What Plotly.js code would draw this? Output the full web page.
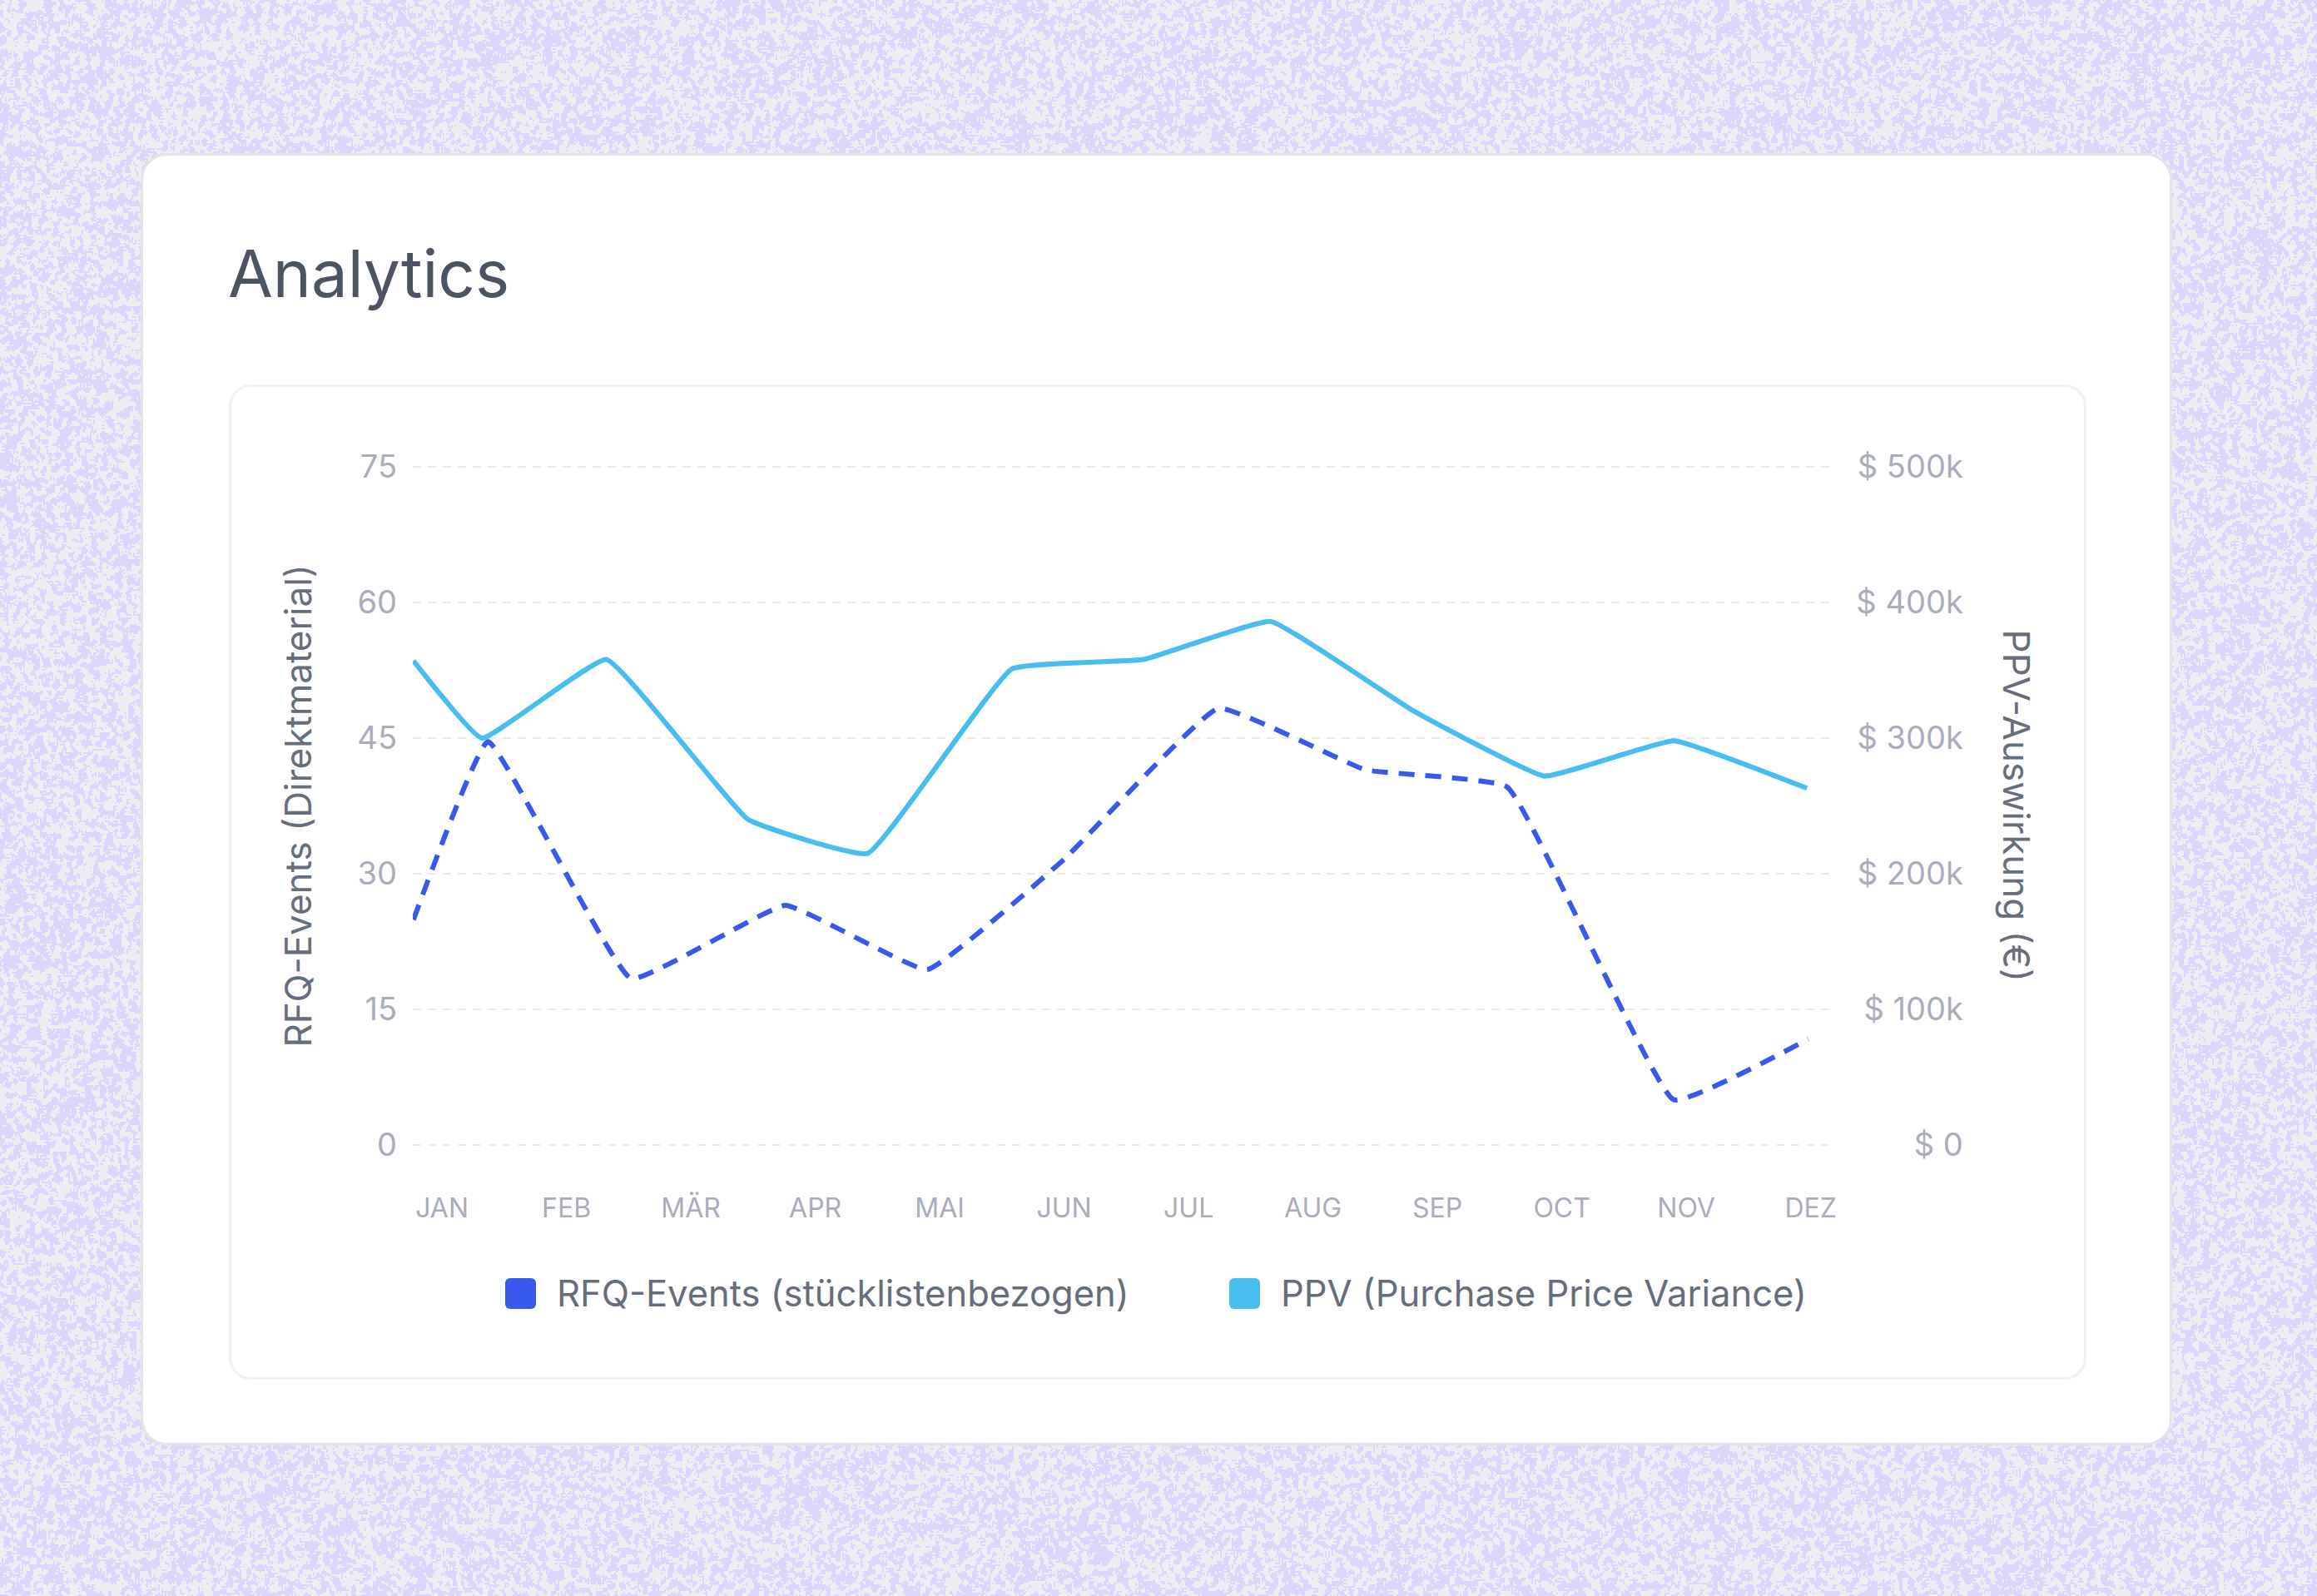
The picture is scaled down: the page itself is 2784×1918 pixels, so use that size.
<!DOCTYPE html>
<html>
<head>
<meta charset="utf-8">
<script src="https://cdn.plot.ly/plotly-3.0.1.min.js"></script>
<style>
  html, body { margin: 0; padding: 0; }
  body {
    width: 2784px; height: 1918px; position: relative; overflow: hidden;
    font-family: Inter, "Noto Sans", sans-serif;
    background-color: #e5e1f8;
  }
  #bg { position: absolute; left: 0; top: 0; }
  .card {
    position: absolute; left: 169px; top: 184px; width: 2435px; height: 1547px;
    background: #fff; border: 3px solid #e4e4e8; border-radius: 32px;
  }
  .inner {
    position: absolute; left: 275px; top: 462px; width: 2226px; height: 1190px;
    border: 3px solid #f2effc; border-radius: 26px; background: #fff;
  }
  h1 {
    position: absolute; left: 274px; top: 290px; margin: 0;
    font-size: 78px; line-height: 78px; font-weight: 400; color: #4b5462;
  }
  .leg {
    position: absolute; top: 1530px; height: 48px; display: flex; align-items: center;
    font-size: 43.5px; color: #666d7a; white-space: nowrap;
  }
  .leg span.sw { width: 37px; height: 37px; border-radius: 6px; margin-right: 25px; display: inline-block; }
  #chart { position: absolute; left: 0; top: 0; width: 2784px; height: 1918px; }
</style>
</head>
<body>
<canvas id="bg" width="2784" height="1918"></canvas>
<div class="card"></div>
<div class="inner"></div>
<h1>Analytics</h1>
<div id="legend"></div>
<div id="chart"></div>
<script>
// month tick labels (x positions 0..11)
const months = ["JAN", "FEB", "MÄR", "APR", "MAI", "JUN", "JUL", "AUG", "SEP", "OCT", "NOV", "DEZ"];

// RFQ-Events (left axis), x in month units
const rfqX = [-0.23, 0.37, 1.52, 2.76, 3.9, 5.0, 6.24, 7.42, 8.56, 9.9, 10.98];
const rfqEvents = [24.9, 44.6, 18.4, 26.5, 19.4, 31.6, 48.3, 41.5, 39.6, 5.0, 11.7];

// PPV in $k (right axis)
const ppvX = [-0.23, 0.32, 1.32, 2.46, 3.42, 4.58, 5.64, 6.66, 7.79, 8.86, 9.9, 10.97];
const ppvK = [357, 300, 358, 240, 215, 351, 358, 386, 321, 272, 298, 263];

const leftTicks = [0, 15, 30, 45, 60, 75];
const rightTicks = [0, 100, 200, 300, 400, 500];
const rightLabels = ["$ 0", "$ 100k", "$ 200k", "$ 300k", "$ 400k", "$ 500k"];

const seriesNames = ["RFQ-Events (stücklistenbezogen)", "PPV (Purchase Price Variance)"];
const seriesColors = ["#3859ec", "#48bdf0"];

const tickFont = { family: "Inter, 'Noto Sans', sans-serif", size: 38, color: "#a9acba" };
const titleFont = { family: "Inter, 'Noto Sans', sans-serif", size: 44, color: "#676e7b" };

// speckled lavender page background (hash based, decorative only)
(function drawBackground() {
    const cv = document.getElementById("bg");
    const ctx = cv.getContext("2d");
    const W = cv.width, H = cv.height, cell = 2;
    const cw = Math.ceil(W / cell) + 2, ch = Math.ceil(H / cell) + 2;
    const hv = new Float32Array(cw * ch);
    for (let j = 0; j < ch; j++) {
        for (let i = 0; i < cw; i++) {
            let n = Math.imul(i, 374761393) + Math.imul(j, 668265263);
            n = Math.imul(n ^ (n >>> 13), 1274126177);
            n = n ^ (n >>> 16);
            hv[j * cw + i] = (n >>> 0) / 4294967296;
        }
    }
    const img = ctx.createImageData(W, H);
    const px = img.data;
    for (let y = 0; y < H; y++) {
        const cj = Math.floor(y / cell) + 1;
        for (let x = 0; x < W; x++) {
            const ci = Math.floor(x / cell) + 1;
            let s = 0;
            for (let dj = -1; dj <= 1; dj++)
                for (let di = -1; di <= 1; di++) s += hv[(cj + dj) * cw + ci + di];
            const on = s / 9 > 0.5;
            const k = (y * W + x) * 4;
            px[k] = on ? 220 : 238;
            px[k + 1] = on ? 214 : 237;
            px[k + 2] = on ? 252 : 243;
            px[k + 3] = 255;
        }
    }
    ctx.putImageData(img, 0, 0);
})();

// legend (html, rounded swatches)
const legendLefts = [607, 1477];
const legendBox = document.getElementById("legend");
seriesNames.forEach((name, i) => {
    const d = document.createElement("div");
    d.className = "leg";
    d.style.left = legendLefts[i] + "px";
    d.innerHTML = `<span class="sw" style="background:${seriesColors[i]}"></span>${name}`;
    legendBox.appendChild(d);
});

const data = [
    {
        type: "scatter", mode: "lines", name: seriesNames[0],
        x: rfqX, y: rfqEvents, yaxis: "y",
        line: { color: seriesColors[0], width: 6, dash: "19px,13px", shape: "spline", smoothing: 0.3 },
        hoverinfo: "none", showlegend: false,
    },
    {
        type: "scatter", mode: "lines", name: seriesNames[1],
        x: ppvX, y: ppvK, yaxis: "y2",
        line: { color: seriesColors[1], width: 6, shape: "spline", smoothing: 0.3 },
        hoverinfo: "none", showlegend: false,
    },
];

const layout = {
    width: 2784,
    height: 1918,
    margin: { l: 496, r: 300, t: 560, b: 541 },
    paper_bgcolor: "rgba(0,0,0,0)",
    plot_bgcolor: "rgba(0,0,0,0)",
    showlegend: false,
    xaxis: {
        domain: [0, 0.8597],
        range: [-0.235, 11.197],
        tickvals: months.map((m, i) => i),
        ticktext: months,
        showgrid: false,
        zeroline: false,
        showline: false,
        ticks: "",
        ticklabelstandoff: 53,
        tickfont: { family: tickFont.family, size: 32, color: tickFont.color },
    },
    yaxis: {
        range: [-0.1, 75.1],
        tickvals: leftTicks,
        showgrid: true,
        gridcolor: "#e9e9ee",
        gridwidth: 2,
        griddash: "10px,8px",
        zeroline: false,
        showline: false,
        ticks: "",
        ticklabelstandoff: 18,
        tickfont: tickFont,
    },
    yaxis2: {
        overlaying: "y",
        anchor: "free",
        position: 0.937,
        side: "left",
        range: [-0.667, 500.667],
        tickvals: rightTicks,
        ticktext: rightLabels,
        showgrid: false,
        zeroline: false,
        showline: false,
        ticks: "",
        tickfont: tickFont,
    },
    annotations: [
        {
            xref: "paper", yref: "paper", x: -0.0699, y: 0.5,
            text: "RFQ-Events (Direktmaterial)", textangle: -90, showarrow: false,
            xanchor: "center", yanchor: "middle", font: titleFont,
        },
        {
            xref: "paper", yref: "paper", x: 0.9698, y: 0.5,
            text: "PPV-Auswirkung (€)", textangle: 90, showarrow: false,
            xanchor: "center", yanchor: "middle", font: titleFont,
        },
    ],
};

Plotly.newPlot("chart", data, layout, { displayModeBar: false, staticPlot: true });
</script>
</body>
</html>
